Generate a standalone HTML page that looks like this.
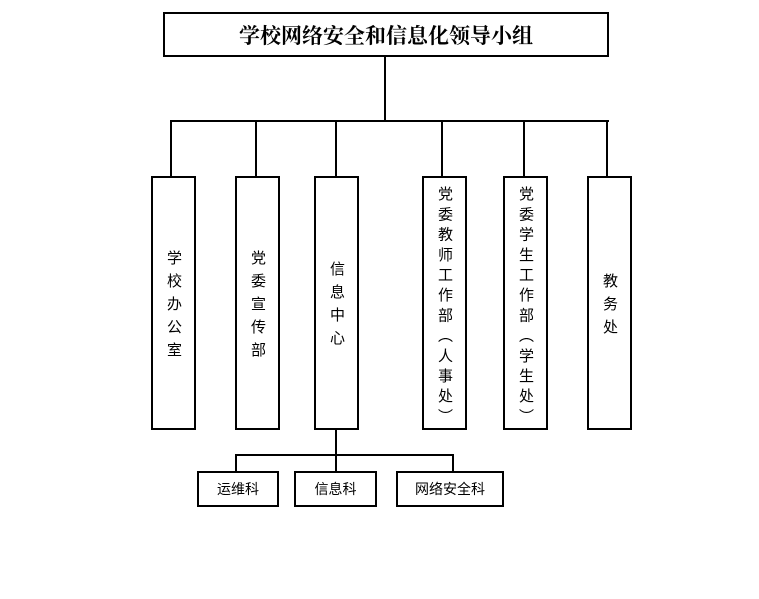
<!DOCTYPE html>
<html><head><meta charset="utf-8"><style>
body{margin:0;width:759px;height:599px;background:#fff;position:relative;overflow:hidden;font-family:"Liberation Sans","Noto Sans CJK SC",sans-serif;}
.b{position:absolute;border:2px solid #000;box-sizing:border-box;background:#fff;}
.l{position:absolute;background:#000;}
.v{position:absolute;writing-mode:vertical-rl;font-size:15px;display:flex;align-items:center;justify-content:center;box-sizing:border-box;}
.h{display:flex;align-items:center;justify-content:center;font-size:14px;}
</style></head><body>
<div class="b h" style="left:163px;top:12px;width:446px;height:45px;font-family:'Noto Serif CJK SC',serif;font-size:21px;font-weight:bold;">学校网络安全和信息化领导小组</div>
<div class="l" style="left:384px;top:56px;width:2px;height:66px"></div>
<div class="l" style="left:170px;top:120px;width:439px;height:2px"></div>
<div class="l" style="left:170px;top:120px;width:2px;height:57px"></div>
<div class="l" style="left:255px;top:120px;width:2px;height:57px"></div>
<div class="l" style="left:335px;top:120px;width:2px;height:57px"></div>
<div class="l" style="left:441px;top:120px;width:2px;height:57px"></div>
<div class="l" style="left:523px;top:120px;width:2px;height:57px"></div>
<div class="l" style="left:606px;top:120px;width:2px;height:57px"></div>
<div class="b v" style="left:151px;top:176px;width:45px;height:254px;letter-spacing:8px;padding-top:8px">学校办公室</div>
<div class="b v" style="left:235px;top:176px;width:45px;height:254px;letter-spacing:8px;padding-top:8px">党委宣传部</div>
<div class="b v" style="left:314px;top:176px;width:45px;height:254px;letter-spacing:8px;padding-top:8px">信息中心</div>
<div class="b v" style="left:422px;top:176px;width:45px;height:254px;letter-spacing:5.2px;padding-top:8px">党委教师工作部（人事处）</div>
<div class="b v" style="left:503px;top:176px;width:45px;height:254px;letter-spacing:5.2px;padding-top:8px">党委学生工作部（学生处）</div>
<div class="b v" style="left:587px;top:176px;width:45px;height:254px;letter-spacing:8px;padding-top:8px">教务处</div>
<div class="l" style="left:335px;top:428px;width:2px;height:45px"></div>
<div class="l" style="left:235px;top:454px;width:219px;height:2px"></div>
<div class="l" style="left:235px;top:454px;width:2px;height:19px"></div>
<div class="l" style="left:452px;top:454px;width:2px;height:19px"></div>
<div class="b h" style="left:197px;top:471px;width:82px;height:36px">运维科</div>
<div class="b h" style="left:294px;top:471px;width:83px;height:36px">信息科</div>
<div class="b h" style="left:396px;top:471px;width:108px;height:36px">网络安全科</div>
</body></html>
